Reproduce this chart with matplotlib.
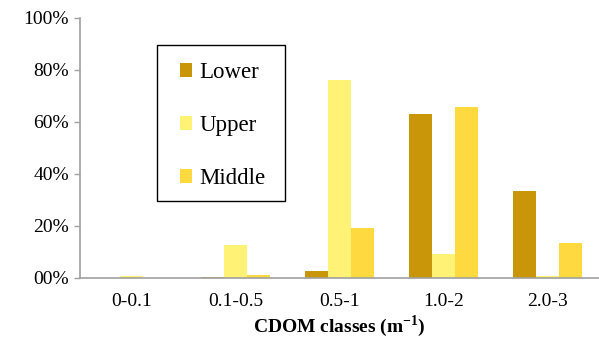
import numpy as np
import matplotlib
matplotlib.use("Agg")
import matplotlib.pyplot as plt
from matplotlib.patches import Rectangle
from matplotlib.ticker import FuncFormatter

plt.rcParams['font.family'] = ['Liberation Serif', 'DejaVu Serif']

# data
classes = ['0-0.1', '0.1-0.5', '0.5-1', '1.0-2', '2.0-3']
lower = [0.0, 0.5, 2.7, 63.0, 33.5]
upper = [0.8, 12.6, 76.3, 9.2, 0.7]
middle = [0.0, 1.0, 19.3, 65.7, 13.5]

series = [('Lower', lower, '#C9960A'),
          ('Upper', upper, '#FFF275'),
          ('Middle', middle, '#FFD940')]

fig = plt.figure(figsize=(5.99, 3.39), dpi=100)
ax = fig.add_axes([0.1336, 0.180, 0.8664, 0.767])

x = np.arange(len(classes))
w = 0.222
for i, (name, vals, col) in enumerate(series):
    ax.bar(x + (i - 1) * w, vals, width=w, color=col, label=name)

ax.set_xlim(-0.5, 4.5)
ax.set_ylim(0, 100)
ax.set_yticks(np.arange(0, 101, 20))
ax.yaxis.set_major_formatter(FuncFormatter(lambda v, p: '%02d%%' % v))
ax.set_xticks(x)
ax.set_xticklabels(classes)
ax.tick_params(axis='x', length=0, pad=11, labelsize=14)
ax.tick_params(axis='y', length=4, width=1, color='#A0A0A0', labelsize=14, pad=4)

for s in ['top', 'right']:
    ax.spines[s].set_visible(False)
for s in ['left', 'bottom']:
    ax.spines[s].set_color('#A0A0A0')
    ax.spines[s].set_linewidth(1.2)

ax.set_xlabel('CDOM classes (m$^{\\mathregular{-1}}$)', fontsize=14,
              fontweight='bold', labelpad=2)

# legend box drawn separately so the padding can match the original
ax.add_patch(Rectangle((0.148, 0.296), 0.246, 0.600, transform=ax.transAxes,
                       fill=False, edgecolor='black', linewidth=1.0,
                       clip_on=False, zorder=5))
leg = ax.legend(loc='upper left', bbox_to_anchor=(0.192, 0.831), fontsize=16.5,
                frameon=False, handlelength=0.55, handleheight=0.55,
                handletextpad=0.3, labelspacing=1.4, borderpad=0,
                borderaxespad=0)

fig.savefig('out.png', dpi=100)
